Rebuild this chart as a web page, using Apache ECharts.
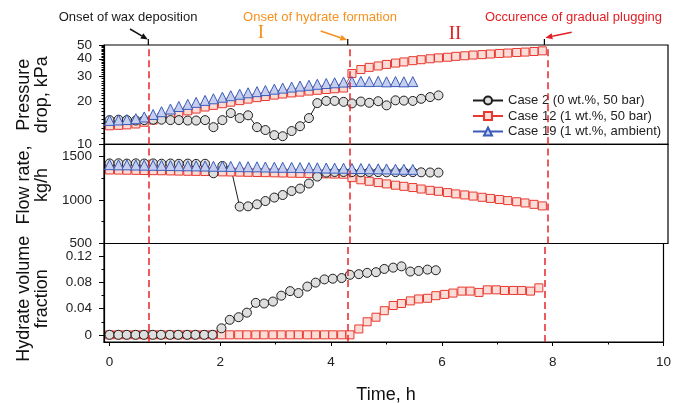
<!DOCTYPE html>
<html><head><meta charset="utf-8">
<script src="https://cdn.jsdelivr.net/npm/echarts@6/dist/echarts.min.js"></script>
<style>html,body{margin:0;padding:0;background:#fff}#c{width:674px;height:403px}</style>
</head><body><div id="c"></div>
<script>
// ---------------- data ----------------
const time = [0.00,0.16,0.31,0.47,0.62,0.78,0.93,1.09,1.24,1.40,1.55,1.71,1.86,2.02,2.17,2.33,2.48,2.64,2.79,2.95,3.10,3.26,3.41,3.57,3.72,3.88,4.03,4.19,4.34,4.50,4.65,4.81,4.96,5.12,5.27,5.43,5.58,5.74,5.89,6.05,6.20,6.36,6.51,6.67,6.82,6.98,7.13,7.29,7.44,7.60,7.75];

const seriesNames = ['Case 2 (0 wt.%, 50 bar)', 'Case 12 (1 wt.%, 50 bar)', 'Case 19 (1 wt.%, ambient)'];

const case2Pressure = [14.8,14.9,14.8,14.7,14.8,14.9,14.9,14.8,14.8,14.7,14.7,14.8,13.2,14.8,16.6,15.3,16.0,13.2,12.6,11.6,11.4,12.4,13.4,15.3,19.5,20.2,20.2,19.9,19.4,20.0,19.6,20.1,18.8,20.4,20.3,20.2,20.9,21.5,22.1];
const case2Flow = [1420,1422,1418,1421,1419,1420,1417,1419,1416,1418,1415,1416,1307,1391,1375,924,927,950,988,1028,1057,1103,1131,1189,1269,1315,1322,1322,1320,1318,1322,1320,1318,1320,1322,1320,1318,1316,1315];
const case2FlowNoMarker = [14];
const case2Hydrate = [0,0,0,0,0,0,0,0,0,0,0,0,0,0.010,0.023,0.027,0.034,0.049,0.048,0.051,0.060,0.067,0.064,0.074,0.080,0.085,0.086,0.087,0.092,0.093,0.095,0.096,0.101,0.103,0.105,0.097,0.098,0.100,0.099];

const case12Pressure = [13.5,13.6,13.7,13.9,14.3,14.8,15.4,16.0,16.6,17.2,17.7,18.3,18.8,19.3,19.8,20.3,20.8,21.3,21.7,22.2,22.6,23.0,23.3,23.7,24.0,24.3,24.6,24.9,31.5,33.6,34.8,35.6,36.5,37.3,38.0,38.8,39.4,40.0,40.6,41.0,41.6,42.0,42.5,42.8,43.2,43.6,43.9,44.3,44.6,45.0,45.5];
const case12Flow = [1345,1344,1342,1341,1339,1337,1336,1334,1332,1330,1329,1327,1325,1323,1322,1320,1318,1316,1314,1312,1310,1308,1306,1304,1302,1300,1298,1296,1257,1232,1215,1200,1185,1170,1157,1143,1126,1111,1100,1085,1070,1058,1045,1031,1018,1006,993,980,966,950,932];
const case12Hydrate = [0,0,0,0,0,0,0,0,0,0,0,0,0,0,0,0,0,0,0,0,0,0,0,0,0,0,0,0,0,0.009,0.020,0.027,0.037,0.045,0.048,0.052,0.055,0.056,0.060,0.062,0.064,0.067,0.067,0.065,0.069,0.069,0.068,0.068,0.068,0.067,0.072];

const case19Pressure = [13.8,13.9,14.0,14.2,14.6,15.2,15.9,16.6,17.3,17.9,18.5,19.1,19.6,20.1,20.6,21.1,21.6,22.0,22.4,22.9,23.3,23.7,24.1,24.4,24.8,25.1,25.4,25.7,25.9,26.0,25.9,26.0,25.8,25.9,25.8,25.9];
const case19Flow = [1360,1358,1358,1356,1354,1353,1352,1350,1348,1347,1346,1344,1342,1341,1340,1337,1336,1335,1333,1331,1330,1329,1326,1325,1324,1321,1320,1319,1317,1316,1313,1312,1311,1308,1307,1306];

const eventTimes = [0.70, 4.30, 7.85];

const xTickLabels = [0, 2, 4, 6, 8, 10];
const xMinorTicks = [1, 3, 5, 7, 9];
const pressureTicks = [10, 20, 30, 40, 50];
const pressureMinor = [11,12,13,14,15,16,17,18,19,21,22,23,24,25,26,27,28,29,31,32,33,34,35,36,37,38,39,41,42,43,44,45,46,47,48,49];
const flowTicks = [500, 1000, 1500];
const flowMinor = [750, 1250];
const hydrateTicks = [0, 0.04, 0.08, 0.12];
const hydrateMinor = [0.02, 0.06, 0.10];

const axisNames = ['Pressure\ndrop, kPa', 'Flow rate,\nkg/h', 'Hydrate volume\nfraction'];
const xName = 'Time, h';

// ---------------- chart ----------------
const FONT = '"Liberation Sans", Arial, sans-serif';
const chart = echarts.init(document.getElementById('c'), null, {renderer: 'canvas'});

const grids = [
  {left: 104, right: 6, top: 45, height: 99.3},
  {left: 104, right: 6, top: 144.3, height: 99.2},
  {left: 104, right: 6, top: 243.5, height: 98.5}
].map(g => Object.assign(g, {show: true, borderColor: '#000', borderWidth: 1.2, backgroundColor: 'transparent', containLabel: false}));

const XMIN = -0.1, XMAX = 10;
const xAxes = [
  {gridIndex: 0, type: 'value', min: XMIN, max: XMAX, show: false},
  {gridIndex: 1, type: 'value', min: XMIN, max: XMAX, show: false},
  {gridIndex: 2, type: 'value', min: XMIN, max: XMAX, position: 'bottom',
   axisLine: {show: true, onZero: false, lineStyle: {color: '#000', width: 1.2}},
   axisTick: {show: true, length: 4, customValues: xTickLabels, lineStyle: {color: '#000', width: 1}},
   axisLabel: {customValues: xTickLabels, margin: 13.5, fontSize: 13.5, color: '#222', fontFamily: FONT,
     hideOverlap: false, showMinLabel: true, showMaxLabel: true},
   splitLine: {show: false}},
  {gridIndex: 2, type: 'value', min: XMIN, max: XMAX, position: 'bottom',
   axisLine: {show: false, onZero: false},
   axisTick: {show: true, length: 2.5, customValues: xMinorTicks, lineStyle: {color: '#000', width: 1}},
   axisLabel: {show: false}, splitLine: {show: false}}
];

function yMajor(grid, type, min, max, ticks, labels, name, namePad) {
  const a = {gridIndex: grid, type, min, max, position: 'left',
    name, nameLocation: 'middle', nameRotate: 90, nameGap: 53,
    nameTextStyle: {fontSize: 18, lineHeight: 18, color: '#111', fontFamily: FONT, align: 'center', padding: namePad},
    axisLine: {show: true, onZero: false, lineStyle: {color: '#000', width: 1.2}},
    axisTick: {show: true, length: 5, customValues: ticks, lineStyle: {color: '#000', width: 1}},
    axisLabel: {customValues: labels, margin: 12, fontSize: 13.5, color: '#222', fontFamily: FONT,
      hideOverlap: false, showMinLabel: true, showMaxLabel: true,
      formatter: v => String(v)},
    splitLine: {show: false}};
  if (type === 'log') a.logBase = 10;
  return a;
}
function yMinor(grid, type, min, max, ticks) {
  const a = {gridIndex: grid, type, min, max, position: 'left',
    axisLine: {show: false, onZero: false},
    axisTick: {show: true, length: 2.5, customValues: ticks, lineStyle: {color: '#000', width: 1}},
    axisLabel: {show: false}, splitLine: {show: false}};
  if (type === 'log') a.logBase = 10;
  return a;
}
function yLabelOnly(grid, type, min, max, labels) {
  const a = {gridIndex: grid, type, min, max, position: 'left',
    axisLine: {show: false, onZero: false}, axisTick: {show: false},
    axisLabel: {customValues: labels, margin: 12, fontSize: 13.5, color: '#222', fontFamily: FONT,
      formatter: v => String(v)},
    splitLine: {show: false}};
  if (type === 'log') a.logBase = 10;
  return a;
}
const PMAX = 50.01;
const yAxes = [
  yMajor(0, 'log', 10, PMAX, pressureTicks, pressureTicks.slice(0, 4), axisNames[0], [0, 0, 0, 0]),
  yMinor(0, 'log', 10, PMAX, pressureMinor),
  yMajor(1, 'value', 500, 1640, flowTicks, flowTicks, axisNames[1], [0, 0, 0, 18]),
  yMinor(1, 'value', 500, 1640, flowMinor),
  yMajor(2, 'value', -0.011, 0.14, hydrateTicks, hydrateTicks, axisNames[2], [0, 12, 0, 0]),
  yMinor(2, 'value', -0.011, 0.14, hydrateMinor),
  yLabelOnly(0, 'log', 10, PMAX, pressureTicks.slice(4))
];

const styles = [
  {color: '#1e1e1e', fill: '#dedede', symbol: 'circle', size: 9, offset: [0, 0]},
  {color: '#e8382f', fill: '#fcdcd6', symbol: 'rect', size: 8, offset: [0, 0]},
  {color: '#3a5cbb', fill: '#c6cfee', symbol: 'triangle', size: [10, 10], offset: [0, -4]}
];

function pairs(values, noMarker) {
  return values.map((v, i) => {
    const item = {value: [time[i], v]};
    if (noMarker && noMarker.indexOf(i) >= 0) item.symbol = 'none';
    return item;
  });
}

const vline = {
  silent: true, symbol: ['none', 'none'], animation: false, label: {show: false},
  lineStyle: {color: '#e8262b', type: [7, 4], width: 1.5},
  emphasis: {disabled: true},
  data: eventTimes.map(t => ({xAxis: t}))
};

function mk(caseIdx, values, gi, noMarker, withLines) {
  const st = styles[caseIdx];
  const s = {
    type: 'line', name: seriesNames[caseIdx],
    xAxisIndex: gi, yAxisIndex: gi * 2,
    data: pairs(values, noMarker),
    symbol: st.symbol, symbolSize: st.size, symbolOffset: st.offset,
    showAllSymbol: true, showSymbol: true,
    lineStyle: {color: st.color, width: 1},
    itemStyle: {color: st.fill, borderColor: st.color, borderWidth: 1},
    emphasis: {disabled: true},
    animation: false
  };
  if (withLines) s.markLine = vline;
  return s;
}

const series = [
  mk(1, case12Pressure, 0, null, true),
  mk(0, case2Pressure, 0),
  mk(2, case19Pressure, 0),
  mk(1, case12Flow, 1, null, true),
  mk(0, case2Flow, 1, case2FlowNoMarker),
  mk(2, case19Flow, 1),
  mk(1, case12Hydrate, 2, null, true),
  mk(0, case2Hydrate, 2)
];

chart.setOption({
  animation: false,
  backgroundColor: '#fff',
  grid: grids,
  xAxis: xAxes,
  yAxis: yAxes,
  legend: {
    data: seriesNames, orient: 'vertical', left: 467, top: 89,
    itemWidth: 30, itemHeight: 10, itemGap: 2.5, selectedMode: false,
    textStyle: {fontSize: 13, color: '#222', fontFamily: FONT}
  },
  series
});

// ---------------- annotations ----------------
function arrow(x1, y1, x2, y2, color) {
  const dx = x2 - x1, dy = y2 - y1, L = Math.hypot(dx, dy), ux = dx / L, uy = dy / L, hl = 7, hw = 3;
  const bx = x2 - ux * hl, by = y2 - uy * hl;
  return [
    {type: 'line', shape: {x1, y1, x2: bx, y2: by}, style: {stroke: color, lineWidth: 1.5}, z: 100},
    {type: 'polygon', shape: {points: [[x2, y2], [bx - uy * hw, by + ux * hw], [bx + uy * hw, by - ux * hw]]}, style: {fill: color}, z: 100}
  ];
}
function txt(text, x, y, color, font) {
  return {type: 'text', x, y, z: 100,
    style: {text, fill: color, font, align: 'center', verticalAlign: 'middle', textAlign: 'center', textVerticalAlign: 'middle'}};
}
const ex = eventTimes.map(t => chart.convertToPixel({xAxisIndex: 2}, t));
const topY = 45;
const gfx = [];
ex.forEach(x => gfx.push({type: 'line', shape: {x1: x, y1: topY - 6, x2: x, y2: topY}, style: {stroke: '#000', lineWidth: 1.2}, z: 100}));
gfx.push(...arrow(130, 29, ex[0] - 0.5, 39.5, '#111'));
gfx.push(...arrow(320.7, 31, ex[1] - 0.5, 40, '#f7901e'));
gfx.push(...arrow(571.7, 32.3, ex[2] + 1, 37.7, '#e31e24'));
gfx.push(txt('Onset of wax deposition', 128, 17.7, '#1a1a1a', '13px ' + FONT));
gfx.push(txt('Onset of hydrate formation', 320, 17.7, '#f7901e', '13px ' + FONT));
gfx.push(txt('Occurence of gradual plugging', 573.5, 17.7, '#e31e24', '13px ' + FONT));
gfx.push(txt('I', 261, 33.5, '#f7901e', '19px "Liberation Serif", "DejaVu Serif", serif'));
gfx.push(txt('II', 455, 34, '#e31e24', '19px "Liberation Serif", "DejaVu Serif", serif'));
gfx.push(txt(xName, 386, 395, '#111', '18px ' + FONT));
chart.setOption({graphic: gfx});
</script>
</body></html>
